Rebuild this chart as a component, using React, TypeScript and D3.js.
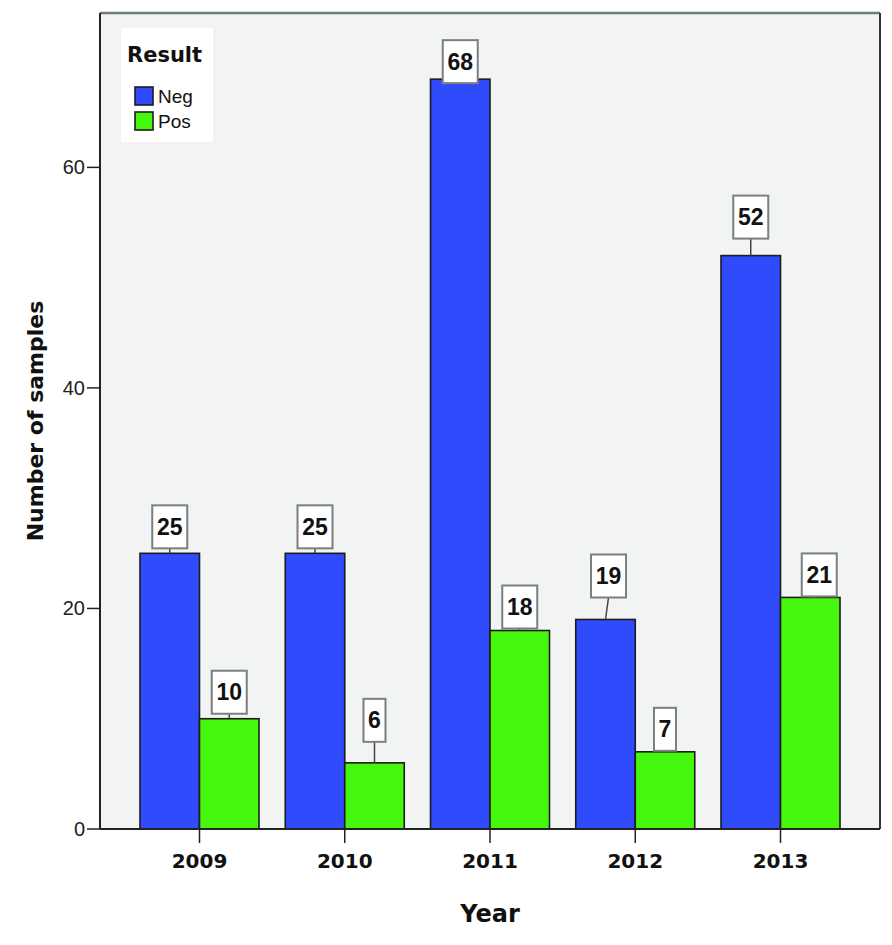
import * as d3 from 'd3';

const years = ['2009', '2010', '2011', '2012', '2013'];
const resultKeys = ['Neg', 'Pos'];
const negCounts = [25, 25, 68, 19, 52];
const posCounts = [10, 6, 18, 7, 21];
const yTicks = [0, 20, 40, 60];

// label box placement: gap above bar top (px) and x shift
const negLabelGap = [5, 5, -4, 22, 17];
const posLabelGap = [5, 21, 2, 1, 1];
const negLabelShift = [0, 0, 0, 3, 0];
const posLabelShift = [0, 0, 0, 0, 9];

const W = 892;
const H = 945;
const margin = { left: 100, right: 12, top: 13, bottom: 116 };

const colors: Record<string, string> = { Neg: '#2f4bfb', Pos: '#45f70c' };

export default function App() {
  const x = d3
    .scalePoint<string>()
    .domain(years)
    .range([margin.left, W - margin.right])
    .padding(0.685);
  const sub = d3.scaleBand<string>().domain(resultKeys).range([-59.5, 59.5]);
  const y = d3.scaleLinear().domain([0, 74]).range([H - margin.bottom, margin.top]);

  const bars = years.flatMap((yr, i) => [
    { yr, key: 'Neg', v: negCounts[i], gap: negLabelGap[i], shift: negLabelShift[i] },
    { yr, key: 'Pos', v: posCounts[i], gap: posLabelGap[i], shift: posLabelShift[i] },
  ]);

  const plotL = margin.left;
  const plotR = W - margin.right;
  const plotT = margin.top;
  const plotB = H - margin.bottom;
  const bold = '"DejaVu Sans", sans-serif';
  const sans = '"Liberation Sans", Arial, sans-serif';

  return (
    <svg width={W} height={H} style={{ position: 'absolute', left: 0, top: 0, background: '#fff' }}>
      <rect x={plotL} y={plotT} width={plotR - plotL} height={plotB - plotT} fill="#f2f4f4" />
      <line x1={plotL} x2={plotR} y1={plotT} y2={plotT} stroke="#6f7c7c" strokeWidth={2.5} />
      <line x1={plotR} x2={plotR} y1={plotT} y2={plotB} stroke="#333" strokeWidth={2} />

      {bars.map((b, i) => {
        const bx = (x(b.yr) as number) + (sub(b.key) as number);
        const bw = sub.bandwidth();
        return (
          <rect
            key={i}
            x={bx}
            y={y(b.v)}
            width={bw}
            height={plotB - y(b.v)}
            fill={colors[b.key]}
            stroke="#1c1c1c"
            strokeWidth={1.6}
          />
        );
      })}

      {bars.map((b, i) => {
        const cx = (x(b.yr) as number) + (sub(b.key) as number) + sub.bandwidth() / 2;
        const label = String(b.v);
        const boxW = label.length > 1 ? 35 : 22;
        const boxH = 43;
        const top = y(b.v);
        const boxBottom = top - b.gap;
        const bcx = cx + b.shift;
        return (
          <g key={'l' + i}>
            {b.gap > 0 && (
              <line x1={bcx} x2={cx} y1={boxBottom} y2={top} stroke="#444" strokeWidth={1.5} />
            )}
            <rect
              x={bcx - boxW / 2}
              y={boxBottom - boxH}
              width={boxW}
              height={boxH}
              fill="#fff"
              stroke="#7a7f7f"
              strokeWidth={2}
            />
            <text
              x={bcx}
              y={boxBottom - boxH / 2 + 8}
              textAnchor="middle"
              fontFamily={sans}
              fontWeight="bold"
              fontSize={23}
              fill="#111"
            >
              {label}
            </text>
          </g>
        );
      })}

      {/* y axis */}
      <line x1={plotL} x2={plotL} y1={plotT} y2={plotB} stroke="#222" strokeWidth={2} />
      {yTicks.map(t => (
        <g key={t}>
          <line x1={plotL - 13} x2={plotL} y1={y(t)} y2={y(t)} stroke="#222" strokeWidth={1.5} />
          <text x={plotL - 15} y={y(t) + 7} textAnchor="end" fontFamily={sans} fontSize={20} fill="#222">
            {t}
          </text>
        </g>
      ))}

      {/* x axis */}
      <line x1={plotL} x2={plotR} y1={plotB} y2={plotB} stroke="#222" strokeWidth={2} />
      {years.map(yr => (
        <g key={yr}>
          <line x1={x(yr)} x2={x(yr)} y1={plotB} y2={plotB + 14} stroke="#222" strokeWidth={1.5} />
          <text x={x(yr)} y={plotB + 39} textAnchor="middle" fontFamily={bold} fontWeight="bold" fontSize={20} fill="#111">
            {yr}
          </text>
        </g>
      ))}

      <text x={(plotL + plotR) / 2} y={922} textAnchor="middle" fontFamily={bold} fontWeight="bold" fontSize={24} fill="#111">
        Year
      </text>
      <text
        transform={`translate(43, 421) rotate(-90)`}
        textAnchor="middle"
        fontFamily={bold}
        fontWeight="bold"
        fontSize={22}
        fill="#111"
      >
        Number of samples
      </text>

      {/* legend */}
      <rect x={121} y={28} width={92} height={114} fill="#fff" />
      <text x={127} y={62} fontFamily={bold} fontWeight="bold" fontSize={21} fill="#111">
        Result
      </text>
      {resultKeys.map((k, i) => (
        <g key={k}>
          <rect x={135} y={87 + i * 25} width={18} height={18} fill={colors[k]} stroke="#1c1c1c" strokeWidth={1.6} />
          <text x={158} y={103 + i * 25} fontFamily={sans} fontSize={19} fill="#111">
            {k}
          </text>
        </g>
      ))}
    </svg>
  );
}
